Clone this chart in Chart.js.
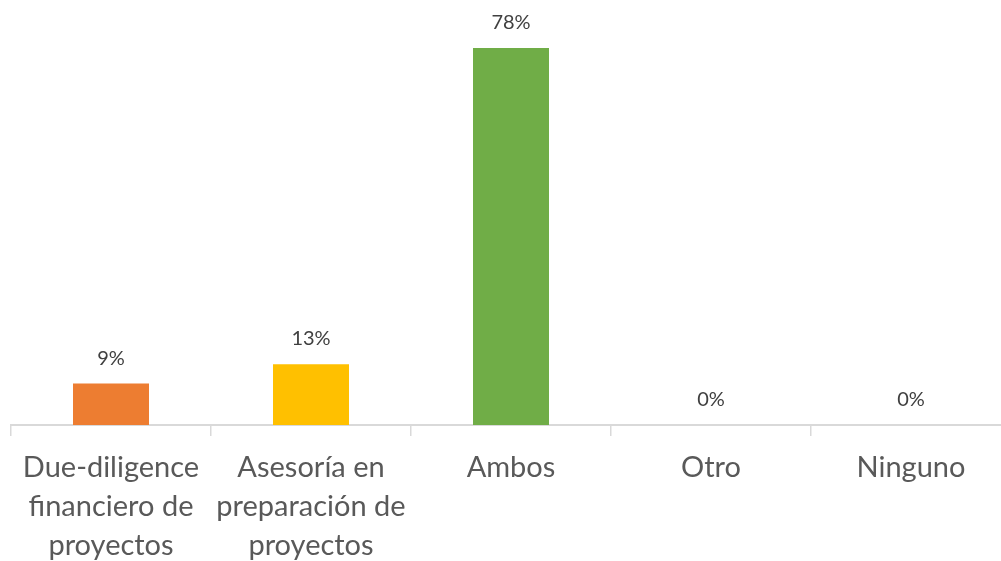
<!DOCTYPE html>
<html>
	<head>
	<meta charset="UTF-8">
	<title>Servicios</title>
		<script src="https://cdn.jsdelivr.net/npm/chart.js@4/dist/chart.umd.min.js"></script>
		<style>
			body { margin: 0; overflow: hidden; background: #ffffff; }
			#wrap { width: 1011px; height: 561px; }
		</style>
	</head>
	<body>
		<div id="wrap"><canvas id="myChart"></canvas></div>

		<script>
			// data
			const categories = [
				['Due-diligence', 'financiero de', 'proyectos'],
				['Asesoría en', 'preparación de', 'proyectos'],
				'Ambos',
				'Otro',
				'Ninguno'
			];
			const values = [8.6, 12.6, 78.2, 0, 0];
			const valueLabels = ['9%', '13%', '78%', '0%', '0%'];
			const barColors = ['#ED7D31', '#FFC000', '#70AD47', '#A5A5A5', '#4472C4'];

			const fontName = 'Lato, "Open Sans", sans-serif';

			// draws the percentages above each bar
			const valueLabelPlugin = {
				id: 'valueLabels',
				afterDatasetsDraw(chart) {
					const ctx = chart.ctx;
					const meta = chart.getDatasetMeta(0);
					ctx.save();
					ctx.font = '20px ' + fontName;
					ctx.fillStyle = '#404040';
					ctx.textAlign = 'center';
					ctx.textBaseline = 'alphabetic';
					meta.data.forEach(function(bar, i) {
						ctx.fillText(valueLabels[i], bar.x, bar.y - 19);
					});
					ctx.restore();
				}
			};

			let ctx = document.getElementById('myChart').getContext('2d');
			let myChart = new Chart(ctx, {
				type: 'bar',
				data: {
					labels: categories,
					datasets: [{
						data: values,
						backgroundColor: barColors,
						borderWidth: 0,
						categoryPercentage: 1,
						barPercentage: 0.38
					}]
				},
				plugins: [valueLabelPlugin],
				options: {
					responsive: true,
					maintainAspectRatio: false,
					animation: false,
					layout: { padding: { left: 11, right: 0, top: 0, bottom: 0 } },
					plugins: {
						legend: { display: false },
						tooltip: { enabled: false }
					},
					scales: {
						x: {
							grid: {
								display: true,
								drawOnChartArea: false,
								drawTicks: true,
								tickLength: 11,
								color: '#d9d9d9',
								lineWidth: 1.5
							},
							border: { display: true, color: '#d9d9d9', width: 2 },
							ticks: {
								color: '#595959',
								font: { family: fontName, size: 29, lineHeight: 1.345 },
								maxRotation: 0,
								autoSkip: false,
								padding: 12
							},
							afterFit: function(scale) { scale.height = 136; }
						},
						y: {
							display: false,
							min: 0,
							max: 425 / 4.82
						}
					}
				}
			});
		</script>
	</body>
</html>
